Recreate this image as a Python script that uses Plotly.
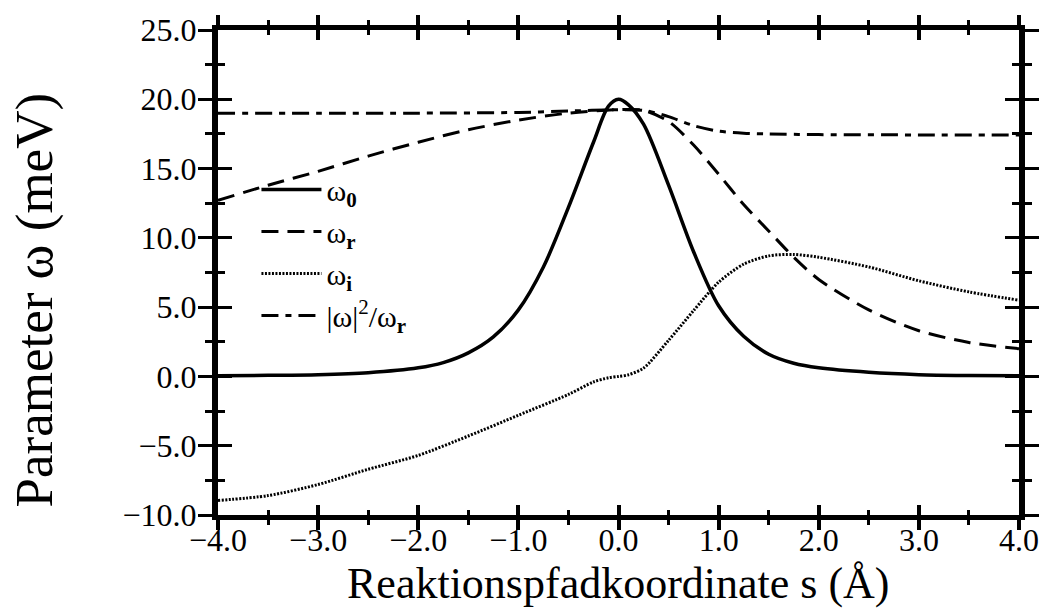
import plotly.graph_objects as go

# s-coordinate samples and read values (meV)
s_w0 = [-4.0, -3.5, -3.0, -2.5, -2.0, -1.75, -1.5, -1.25, -1.0, -0.75, -0.5, -0.25, -0.1, 0.0,
        0.1, 0.25, 0.5, 0.75, 1.0, 1.25, 1.5, 1.75, 2.0, 2.5, 3.0, 3.5, 4.0]
w0 = [0.05, 0.08, 0.13, 0.27, 0.62, 1.0, 1.7, 2.85, 4.8, 7.9, 12.2, 16.9, 19.5, 20.0,
      19.6, 18.2, 13.8, 9.0, 5.1, 2.9, 1.6, 0.95, 0.62, 0.3, 0.13, 0.07, 0.05]

s_wr = [-4.0, -3.5, -3.0, -2.5, -2.0, -1.5, -1.0, -0.5, 0.0, 0.25, 0.5, 0.75, 1.0, 1.25,
        1.5, 1.75, 2.0, 2.5, 3.0, 3.5, 4.0]
wr = [12.7, 13.8, 14.8, 15.9, 16.9, 17.8, 18.5, 19.0, 19.25, 19.2, 18.4, 16.7, 14.6, 12.4,
      10.5, 8.6, 7.0, 4.8, 3.3, 2.45, 2.0]

s_wi = [-4.0, -3.5, -3.0, -2.5, -2.0, -1.5, -1.0, -0.5, -0.25, -0.1, 0.0, 0.1, 0.25, 0.5,
        0.75, 1.0, 1.25, 1.5, 1.75, 2.0, 2.5, 3.0, 3.5, 4.0]
wi = [-8.95, -8.6, -7.8, -6.7, -5.7, -4.3, -2.8, -1.3, -0.4, -0.1, 0.0, 0.12, 0.6, 2.6,
      4.75, 6.8, 8.1, 8.7, 8.8, 8.6, 7.9, 6.9, 6.1, 5.5]

s_wq = [-4.0, -3.0, -2.0, -1.0, -0.5, 0.0, 0.25, 0.5, 0.75, 1.0, 1.25, 1.5, 2.0, 3.0, 4.0]
wq = [19.0, 19.0, 19.0, 19.05, 19.15, 19.25, 19.2, 18.75, 18.1, 17.7, 17.55, 17.5, 17.45,
      17.43, 17.43]

names = ["ω<sub><b>0</b></sub>", "ω<sub><b>r</b></sub>", "ω<sub><b>i</b></sub>",
         "|ω|<sup>2</sup>/ω<sub><b>r</b></sub>"]

FONT = "Liberation Serif"

fig = go.Figure()
fig.add_trace(go.Scatter(x=s_w0, y=w0, mode="lines", name=names[0],
                         line=dict(color="black", width=3.5, shape="spline", smoothing=0.9)))
fig.add_trace(go.Scatter(x=s_wr, y=wr, mode="lines", name=names[1],
                         line=dict(color="black", width=3, dash="17px,9px", shape="spline", smoothing=0.8)))
fig.add_trace(go.Scatter(x=s_wi, y=wi, mode="lines", name=names[2],
                         line=dict(color="black", width=3, dash="2px,1.5px", shape="spline", smoothing=0.8)))
fig.add_trace(go.Scatter(x=s_wq, y=wq, mode="lines", name=names[3],
                         line=dict(color="black", width=3, dash="17px,7px,6px,7px", shape="spline", smoothing=0.8)))
# empty trace to anchor the overlay axes carrying the inner tick halves
fig.add_trace(go.Scatter(x=[], y=[], xaxis="x2", yaxis="y2", showlegend=False, hoverinfo="skip"))

tickfont = dict(family=FONT, size=32, color="black")

fig.update_layout(
    width=1051, height=608,
    margin=dict(l=218, r=31, t=19, b=93),
    paper_bgcolor="white", plot_bgcolor="white",
    showlegend=True,
    legend=dict(x=0.048, y=0.725, xanchor="left", yanchor="top",
                font=dict(family=FONT, size=30, color="black"),
                bgcolor="rgba(0,0,0,0)", borderwidth=0, itemwidth=60),
    xaxis=dict(range=[-4, 4], tick0=-4, dtick=1, tickformat=".1f",
               showgrid=False, zeroline=False,
               showline=True, linewidth=4.5, linecolor="black", mirror="ticks",
               ticks="outside", ticklen=10, tickwidth=3.5, tickcolor="black",
               ticklabelstandoff=-17,
               minor=dict(ticks="outside", dtick=0.5, ticklen=5, tickwidth=3, tickcolor="black"),
               tickfont=tickfont),
    yaxis=dict(range=[-10, 25], tick0=-10, dtick=5, tickformat=".1f",
               showgrid=False, zeroline=False,
               showline=True, linewidth=6, linecolor="black", mirror="ticks",
               ticks="outside", ticklen=14, tickwidth=3, tickcolor="black",
               ticklabelstandoff=-5,
               minor=dict(ticks="outside", dtick=2.5, ticklen=7, tickwidth=2.5, tickcolor="black"),
               tickfont=tickfont),
    xaxis2=dict(range=[-4, 4], overlaying="x", anchor="y2", tick0=-4, dtick=1,
                showgrid=False, zeroline=False, showline=False, showticklabels=False,
                mirror="ticks", ticks="inside", ticklen=10, tickwidth=3.5, tickcolor="black",
                minor=dict(ticks="inside", dtick=0.5, ticklen=5, tickwidth=3, tickcolor="black")),
    yaxis2=dict(range=[-10, 25], overlaying="y", anchor="x2", tick0=-10, dtick=5,
                showgrid=False, zeroline=False, showline=False, showticklabels=False,
                mirror="ticks", ticks="inside", ticklen=14, tickwidth=3, tickcolor="black",
                minor=dict(ticks="inside", dtick=2.5, ticklen=7, tickwidth=2.5, tickcolor="black")),
    annotations=[
        dict(text="Reaktionspfadkoordinate s (Å)", xref="paper", yref="paper",
             x=0.5, y=-0.142, xanchor="center", yanchor="middle", showarrow=False,
             font=dict(family=FONT, size=44, color="black")),
        dict(text="Parameter ω (meV)", xref="paper", yref="paper",
             x=-0.229, y=0.4435, xanchor="center", yanchor="middle", showarrow=False,
             textangle=-90, font=dict(family=FONT, size=53, color="black")),
    ],
)

fig.write_html("out.html")
